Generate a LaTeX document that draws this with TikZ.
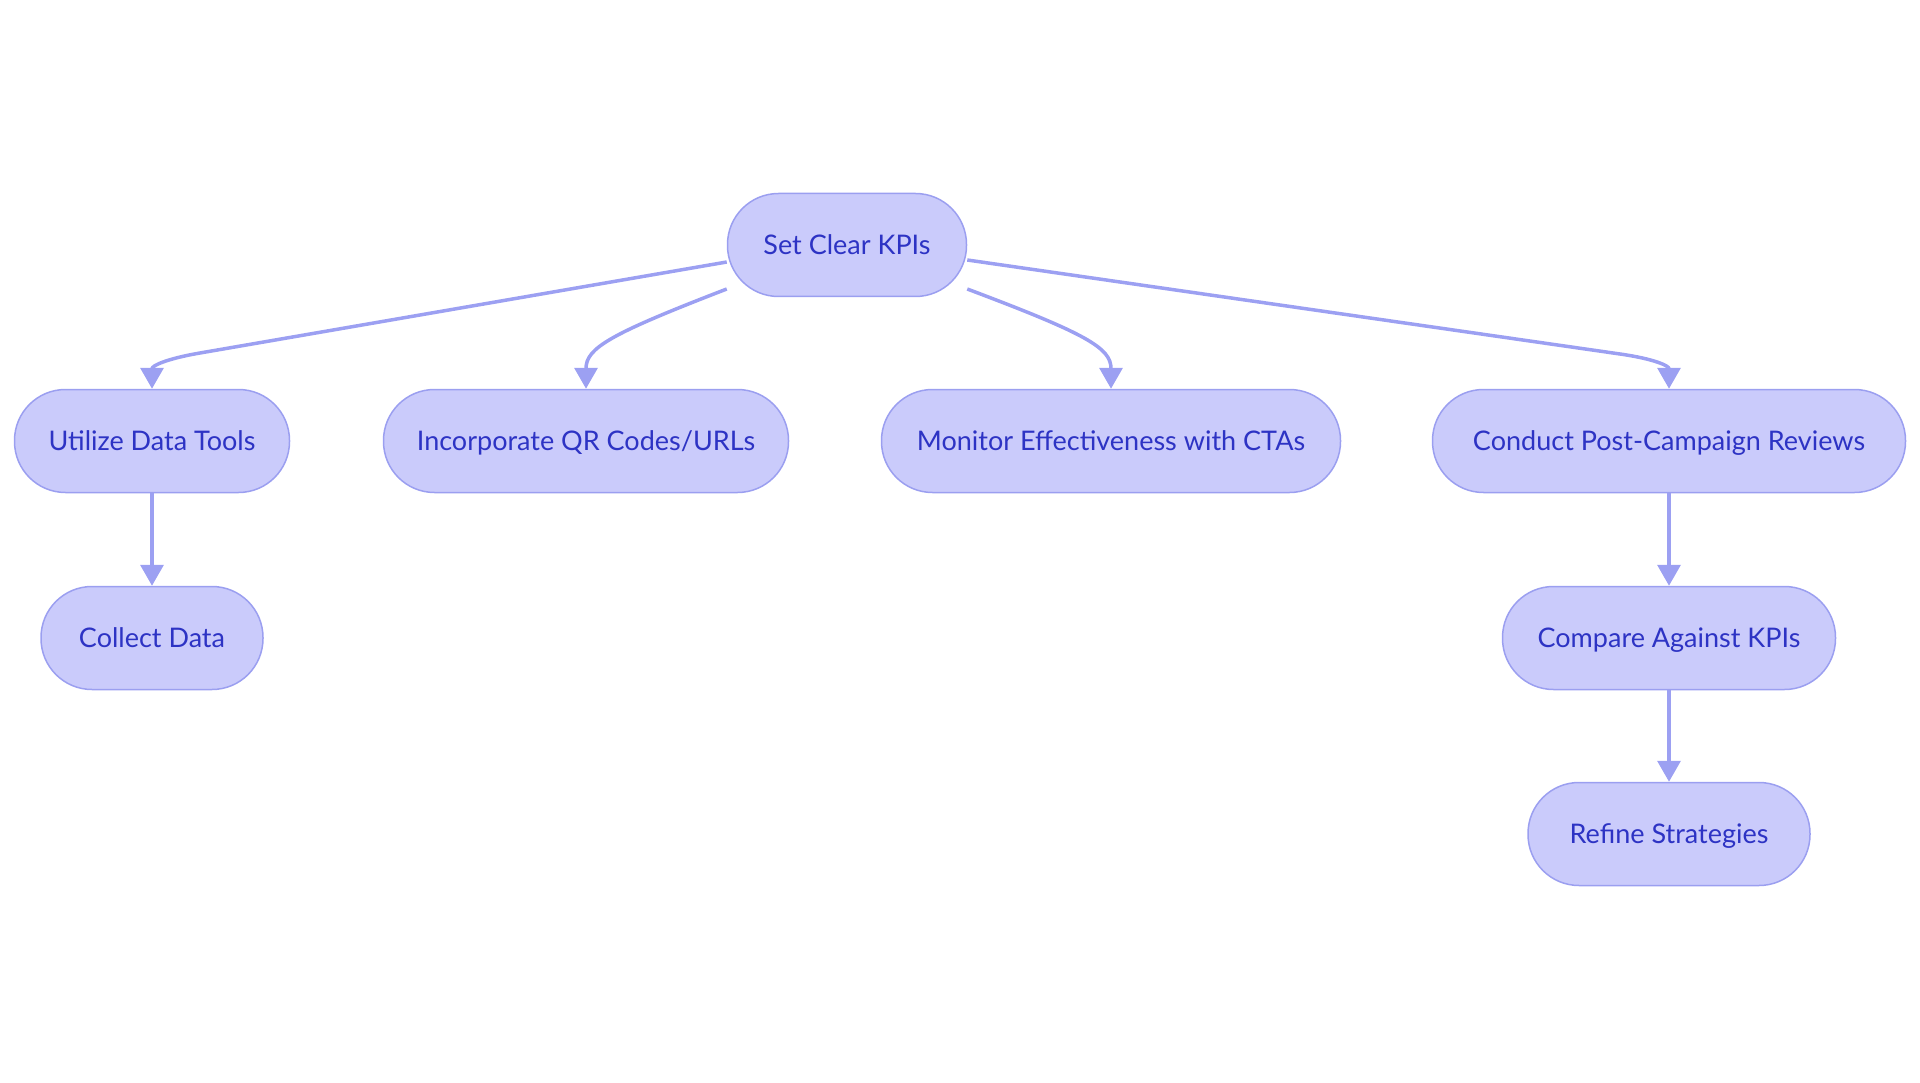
\documentclass[tikz,border=0pt]{standalone}
\usepackage{fontspec}
\setmainfont{Lato}
\usetikzlibrary{arrows.meta}
\definecolor{nodefill}{HTML}{CACBFB}
\definecolor{nodeedge}{HTML}{9B9FF0}
\definecolor{nodetext}{HTML}{2D33C4}
\definecolor{linkcol}{HTML}{9CA0F2}
\begin{document}
\begin{tikzpicture}[x=1pt,y=-1pt,
  pill/.style={draw=nodeedge, line width=1.5pt, fill=nodefill, text=nodetext,
    rounded corners=51pt, minimum height=103pt, inner sep=0pt,
    text height=24pt, text depth=5pt,
    font=\fontsize{27}{30}\selectfont},
  link/.style={draw=linkcol, line width=3.5pt, -{Triangle[width=23pt,length=21pt]}}]
\useasboundingbox (0,0) rectangle (1920,1083);
\node[pill, minimum width=239pt] (kpi) at (847,245) {Set Clear KPIs};
\node[pill, minimum width=275pt] (tools) at (152,441) {Utilize Data Tools};
\node[pill, minimum width=405pt] (qr) at (586,441) {Incorporate QR Codes/URLs};
\node[pill, minimum width=459pt] (cta) at (1111,441) {Monitor Effectiveness with CTAs};
\node[pill, minimum width=473pt] (review) at (1669,441) {Conduct Post-Campaign Reviews};
\node[pill, minimum width=222pt] (collect) at (152,638) {Collect Data};
\node[pill, minimum width=333pt] (compare) at (1669,638) {Compare Against KPIs};
\node[pill, minimum width=282pt] (refine) at (1669,834) {Refine Strategies};
\coordinate (k1) at ([yshift=-17pt]kpi.west);
\coordinate (k2) at ([yshift=-44pt]kpi.west);
\coordinate (k3) at ([yshift=-44pt]kpi.east);
\coordinate (k4) at ([yshift=-15pt]kpi.east);
\draw[link] (k1) -- (200,353) .. controls (165,359) and (152,366) .. (tools.north);
\draw[link] (k2) .. controls (610,334) and (586,348) .. (qr.north);
\draw[link] (k3) .. controls (1087,334) and (1111,348) .. (cta.north);
\draw[link] (k4) -- (1620,354) .. controls (1655,359) and (1669,366) .. (review.north);
\draw[link] (tools) -- (collect);
\draw[link] (review) -- (compare);
\draw[link] (compare) -- (refine);
\end{tikzpicture}
\end{document}
